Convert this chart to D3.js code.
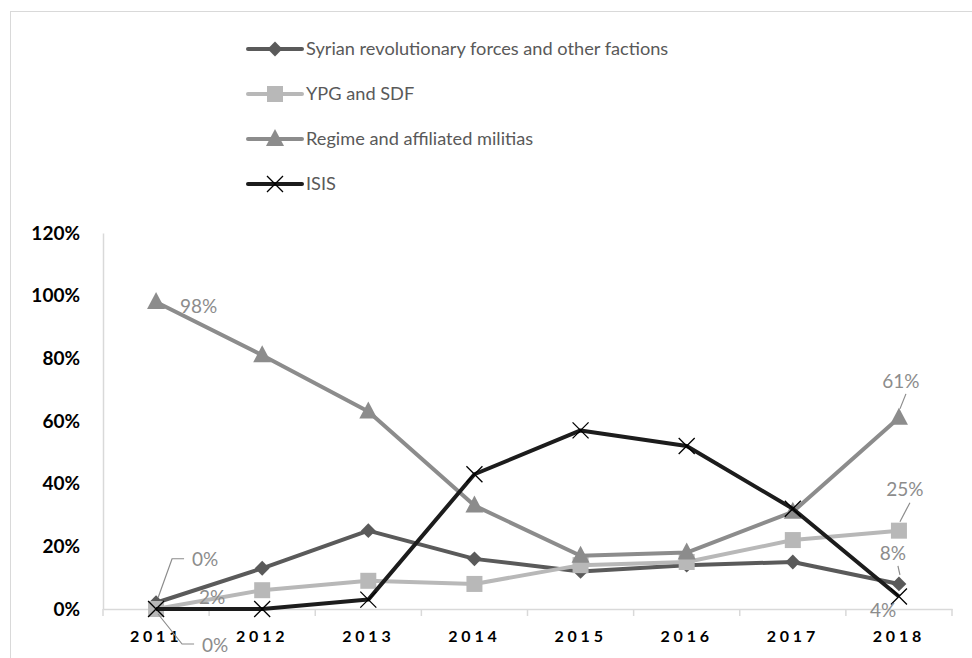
<!DOCTYPE html>
<html>
<head>
<meta charset="utf-8"/>
<script src="https://cdn.jsdelivr.net/npm/d3@7"></script>
<style>
  body { margin: 0; background: #fff; }
  text { font-family: Lato, "Open Sans", sans-serif; }
</style>
</head>
<body>
<script>
  // data
  var years = ["2011", "2012", "2013", "2014", "2015", "2016", "2017", "2018"];
  var syrian = [2, 13, 25, 16, 12, 14, 15, 8];
  var ypg = [0, 6, 9, 8, 14, 15, 22, 25];
  var regime = [98, 81, 63, 33, 17, 18, 31, 61];
  var isis = [0, 0, 3, 43, 57, 52, 32, 4];
  var yTicks = [0, 20, 40, 60, 80, 100, 120];

  var series = [
    {name: "Syrian revolutionary forces and other factions", values: syrian, color: "#5a5a5a", marker: "diamond"},
    {name: "YPG and SDF", values: ypg, color: "#b8b8b8", marker: "square"},
    {name: "Regime and affiliated militias", values: regime, color: "#8c8c8c", marker: "triangle"},
    {name: "ISIS", values: isis, color: "#1c1c1c", marker: "cross"}
  ];

  // data labels: series index, year index, offset of the text from the point
  var labels = [
    {s: 2, i: 0, text: "98%", dx: 24, dy: 4},
    {s: 0, i: 0, text: "0%", dx: 36, dy: -43, lead: true},
    {s: 1, i: 0, text: "2%", dx: 43, dy: -12},
    {s: 3, i: 0, text: "0%", dx: 46, dy: 36, lead: true},
    {s: 2, i: 7, text: "61%", dx: 2, dy: -37, lead: true},
    {s: 1, i: 7, text: "25%", dx: 6, dy: -41, lead: true},
    {s: 0, i: 7, text: "8%", dx: -6, dy: -31, lead: true},
    {s: 3, i: 7, text: "4%", dx: -29, dy: 14}
  ];

  var W = 972, H = 658;
  var m = {left: 103, top: 233};

  var svg = d3.select("body").append("svg")
      .attr("width", W)
      .attr("height", H);

  svg.append("rect")
      .attr("x", 10.5).attr("y", 11.5)
      .attr("width", 1000).attr("height", 700)
      .attr("fill", "none").attr("stroke", "#d9d9d9");

  var x = d3.scaleBand().domain(years).range([m.left, 952]);
  var y = d3.scaleLinear().domain([0, 120]).range([609, m.top]);
  var cx = function(i) { return x(years[i]) + x.bandwidth() / 2; };

  // y axis
  var yAxis = svg.append("g")
      .attr("transform", "translate(" + m.left + ",0)")
      .call(d3.axisLeft(y).tickValues(yTicks).tickSize(0).tickPadding(23)
        .tickFormat(function(d) { return d + "%"; }));
  yAxis.select(".domain").attr("stroke", "#d9d9d9").attr("stroke-width", 1.5);
  yAxis.selectAll("text")
      .attr("font-size", 19).attr("font-weight", "bold").attr("fill", "#000")
      .style("font-family", "Lato, sans-serif");

  // x axis
  var xAxis = svg.append("g")
      .attr("transform", "translate(0," + y(0) + ")")
      .call(d3.axisBottom(x).tickSize(0).tickPadding(22));
  xAxis.select(".domain").attr("stroke", "#d9d9d9").attr("stroke-width", 1.5);
  xAxis.selectAll("text")
      .attr("font-size", 16).attr("font-weight", "bold").attr("fill", "#000")
      .attr("letter-spacing", 3.8);
  xAxis.selectAll(".sep")
      .data(years.concat(["end"]))
      .enter().append("line")
      .attr("x1", function(d, i) { return m.left + i * x.bandwidth(); })
      .attr("x2", function(d, i) { return m.left + i * x.bandwidth(); })
      .attr("y1", 0).attr("y2", 7)
      .attr("stroke", "#d9d9d9").attr("stroke-width", 1.5);

  function drawMarker(g, type, color, px, py) {
    if (type == "diamond") {
      g.append("path")
        .attr("d", d3.symbol(d3.symbolDiamond2, 140)())
        .attr("transform", "translate(" + px + "," + py + ")")
        .attr("fill", color);
    } else if (type == "square") {
      g.append("rect")
        .attr("x", px - 8).attr("y", py - 8)
        .attr("width", 16).attr("height", 16)
        .attr("fill", color);
    } else if (type == "triangle") {
      g.append("path")
        .attr("d", "M" + px + "," + (py - 10) + "L" + (px + 9) + "," + (py + 7) + "L" + (px - 9) + "," + (py + 7) + "Z")
        .attr("fill", color);
    } else {
      g.append("path")
        .attr("d", "M" + (px - 8) + "," + (py - 8) + "L" + (px + 8) + "," + (py + 8) +
                   "M" + (px + 8) + "," + (py - 8) + "L" + (px - 8) + "," + (py + 8))
        .attr("stroke", "#000").attr("stroke-width", 1.3);
    }
  }

  var line = d3.line()
      .x(function(d, i) { return cx(i); })
      .y(function(d) { return y(d); });

  series.forEach(function(s) {
    var g = svg.append("g");
    g.append("path")
      .attr("d", line(s.values))
      .attr("fill", "none")
      .attr("stroke", s.color)
      .attr("stroke-width", 4)
      .attr("stroke-linejoin", "round");
    s.values.forEach(function(v, i) {
      drawMarker(g, s.marker, s.color, cx(i), y(v));
    });
  });

  // data labels
  labels.forEach(function(l) {
    var px = cx(l.i), py = y(series[l.s].values[l.i]);
    var tx = px + l.dx, ty = py + l.dy;
    var right = l.i == 7 && l.lead;
    if (l.lead) {
      if (!right) {
        svg.append("path")
          .attr("d", "M" + (tx - 8) + "," + (ty - 1) + "L" + (tx - 20) + "," + (ty - 1) + "L" + (px + 2) + "," + (py + (l.dy < 0 ? -5 : 5)))
          .attr("fill", "none").attr("stroke", "#8c8c8c").attr("stroke-width", 1.2);
      } else {
        svg.append("line")
          .attr("x1", tx + 5).attr("y1", ty + 13)
          .attr("x2", px + 1).attr("y2", py - 9)
          .attr("stroke", "#8c8c8c").attr("stroke-width", 1.2);
      }
    }
    svg.append("text")
      .attr("x", tx)
      .attr("y", ty)
      .attr("dy", "0.35em")
      .attr("text-anchor", right ? "middle" : "start")
      .attr("font-size", 19)
      .attr("fill", "#8c8c8c")
      .text(l.text);
  });

  // legend
  var legend = svg.append("g");
  series.forEach(function(s, k) {
    var ly = 49 + k * 45;
    var row = legend.append("g");
    row.append("line")
      .attr("x1", 248).attr("x2", 302)
      .attr("y1", ly).attr("y2", ly)
      .attr("stroke", s.color).attr("stroke-width", 4)
      .attr("stroke-linecap", "round");
    drawMarker(row, s.marker, s.color, 275, ly);
    row.append("text")
      .attr("x", 306).attr("y", ly)
      .attr("dy", "0.35em")
      .attr("font-size", 18.2)
      .attr("fill", "#595959")
      .text(s.name);
  });
</script>
</body>
</html>
